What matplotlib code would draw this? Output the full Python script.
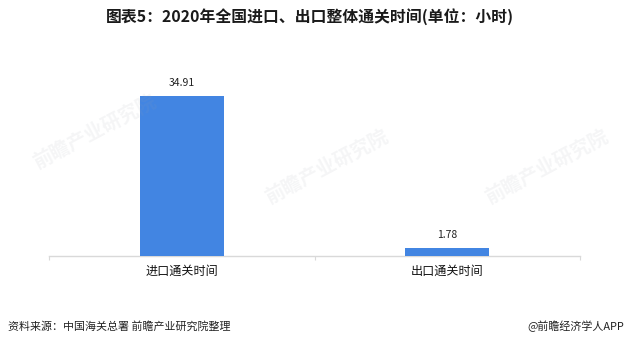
import matplotlib
matplotlib.use("Agg")
import matplotlib.pyplot as plt

plt.rcParams['font.family'] = ['Noto Sans CJK SC', 'DejaVu Sans']

categories = ["进口通关时间", "出口通关时间"]
values = [34.91, 1.78]
value_labels = ["34.91", "1.78"]
title = "图表5：2020年全国进口、出口整体通关时间(单位：小时)"
source = "资料来源：中国海关总署 前瞻产业研究院整理"
brand = "@前瞻经济学人APP"

fig = plt.figure(figsize=(6.28, 3.47), dpi=100)
fig.patch.set_facecolor("white")
ax = fig.add_axes([49/628, 1-256/347, 531/628, 196/347])

x = list(range(len(categories)))
ax.bar(x, values, width=0.316, color="#4285E2", zorder=3)
ax.set_xlim(-0.5, len(categories) - 0.5)
ax.set_ylim(0, 42.8)
for xi, v, lab in zip(x, values, value_labels):
    ax.annotate(lab, (xi, v), xytext=(0, 6), textcoords="offset points",
                ha="center", va="bottom", fontsize=7.5, color="#222222")

ax.set_yticks([])
ax.set_xticks(x)
ax.set_xticklabels(categories, fontsize=8.7, color="#111111")
ax.tick_params(axis="x", length=0, pad=6)
for s in ["top", "right", "left"]:
    ax.spines[s].set_visible(False)
ax.spines["bottom"].set_color("#d9d9d9")
ax.spines["bottom"].set_linewidth(1.0)
ax.set_xticks([-0.5, 0.5, 1.5], minor=True)
ax.tick_params(axis="x", which="minor", length=3, color="#d9d9d9", width=0.8)

# faint watermarks
for (wx, wy) in [(0.15, 0.62), (0.52, 0.52), (0.87, 0.52)]:
    fig.text(wx, wy, "前瞻产业研究院", fontsize=14, color="#9aa3ad", alpha=0.10,
             rotation=28, ha="center", va="center", fontweight="bold", zorder=0)

fig.text(0.494, 1-17/347, title, ha="center", va="center", fontsize=11.4,
         fontweight="bold", color="#1a1a1a")
fig.text(8/628, 1-326/347, source, ha="left", va="center", fontsize=7.9, color="#222222")
fig.text(624/628, 1-326/347, brand, ha="right", va="center", fontsize=7.9, color="#222222")

fig.savefig("out.png", dpi=100)
